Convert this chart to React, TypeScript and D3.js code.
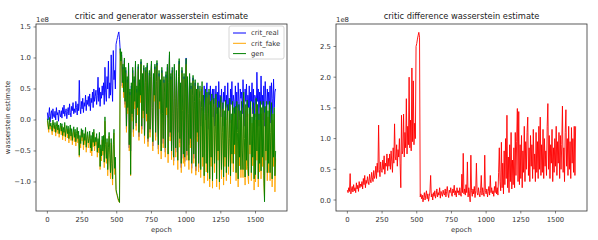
import * as d3 from "d3"

// values in units of 1e8, one sample every 5 epochs (one row = 50 epochs)
const EPOCH_STEP = 5

const critReal = [
  0.12, 0.0, 0.08, 0.2, -0.03, 0.1, 0.15, 0.02, 0.18, 0.06,
  0.04, 0.14, 0.0, 0.2, 0.08, 0.12, -0.02, 0.16, 0.1, 0.05,
  0.15, 0.03, 0.2, 0.1, 0.24, 0.06, 0.12, 0.18, 0.02, 0.14,
  0.2, 0.08, 0.26, 0.12, 0.05, 0.22, 0.15, 0.28, 0.1, 0.18,
  0.12, 0.3, 0.2, 0.08, 0.26, 0.15, 0.64, 0.22, 0.1, 0.3,
  0.18, 0.35, 0.12, 0.28, 0.22, 0.4, 0.15, 0.32, 0.25, 0.38,
  0.22, 0.42, 0.15, 0.35, 0.28, 0.45, 0.2, 0.5, 0.3, 0.38,
  0.48, 0.25, 0.4, 0.69, 0.3, 0.52, 0.22, 0.45, 0.35, 0.55,
  0.4, 0.6, 0.25, 0.85, 0.45, 0.3, 0.7, 0.5, 0.95, 0.35,
  0.6, 0.4, 1.05, 0.55, 0.3, 1.12, 0.65, 0.8, 0.5, 1.22,
  1.28, 1.33, 1.38, 1.42, 1.3, 1.12, 0.9, 1.05, 0.55, 0.85,
  0.4, 0.96, 0.25, 0.8, -0.15, 0.65, 0.15, 0.88, -0.45, 0.45,
  -0.5, 0.55, 0.05, 0.8, -0.2, 0.65, 0.25, 0.9, -0.1, 0.5,
  0.15, 0.86, -0.27, 0.6, 0.35, 0.94, -0.15, 0.7, 0.1, 0.84,
  -0.3, 0.55, 0.8, 0.05, 0.88, -0.35, 0.45, 0.76, -0.2, 0.65,
  0.9, 0.15, -0.42, 0.7, 0.35, 0.86, -0.27, 0.57, 0.92, 0.0,
  -0.47, 0.75, 0.25, 0.6, 0.1, 0.8, 0.05, -0.38, 0.65, 0.4,
  -0.52, 0.73, 0.15, 0.85, 0.04, 0.55, 1.05, -0.27, 0.7, -0.57,
  0.8, 0.05, -0.66, 0.85, 0.3, -0.52, 0.75, 0.15, -0.2, 0.65,
  0.95, -0.37, 0.55, -0.77, 0.8, 0.1, -0.62, 0.7, -0.67, 0.45,
  1.0, -0.57, 0.65, 0.05, -0.4, 0.7, -0.37, 0.55, -0.78, 0.35,
  0.68, -0.62, 0.25, 0.6, -0.82, 0.45, -0.27, 0.55, -0.77, 0.3,
  0.3, -0.1, 0.5, 0.15, 0.4, -0.05, 0.55, 0.2, 0.0, 0.45,
  0.6, 0.1, -0.15, 0.45, 0.25, 0.55, -0.05, 0.35, 0.5, 0.05,
  0.5, -0.1, 0.3, 0.55, 0.1, 0.45, -0.15, 0.62, 0.2, 0.4,
  0.05, 0.5, 0.25, -0.1, 0.45, 0.3, 0.55, 0.0, 0.4, 0.2,
  0.6, 0.15, 0.35, -0.05, 0.5, 0.25, 0.62, 0.05, 0.4, 0.3,
  0.1, 0.55, 0.2, 0.45, -0.15, 0.6, 0.3, 0.0, 0.5, 0.35,
  0.45, 0.1, 0.65, 0.25, -0.1, 0.5, 0.3, 0.58, 0.05, 0.4,
  0.2, 0.55, -0.05, 0.45, 0.3, 0.6, 0.1, 0.5, -0.2, 0.4,
  0.35, 0.05, 0.77, 0.3, 0.5, -0.1, 0.45, 0.2, 0.71, 0.25,
  0.4, 0.0, 0.55, -0.1, 0.62, 0.3, 0.1, 0.5, 0.25, 0.45,
  0.15, 0.55, -0.05, 0.6, 0.35, 0.1, 0.66, 0.2, 0.45, 0.5,
]

const critFake = [
  -0.02, -0.12, -0.2, 0.0, -0.15, -0.09, -0.17, -0.24, -0.04, -0.14,
  -0.19, -0.08, -0.26, -0.15, -0.06, -0.22, -0.13, -0.28, -0.17, -0.1,
  -0.24, -0.1, -0.32, -0.18, -0.26, -0.08, -0.34, -0.2, -0.14, -0.29,
  -0.15, -0.37, -0.23, -0.13, -0.33, -0.2, -0.4, -0.26, -0.16, -0.35,
  -0.2, -0.42, -0.28, -0.17, -0.37, -0.24, -0.6, -0.31, -0.45, -0.19,
  -0.34, -0.21, -0.48, -0.28, -0.4, -0.17, -0.52, -0.32, -0.25, -0.45,
  -0.36, -0.23, -0.53, -0.31, -0.58, -0.26, -0.43, -0.2, -0.5, -0.34,
  -0.41, -0.28, -0.6, -0.36, -0.53, -0.26, -0.8, -0.47, -0.66, -0.32,
  -0.57, -0.31, -0.77, -0.02, -0.47, -0.7, -0.36, -0.9, -0.52, -0.26,
  -0.62, -0.95, -0.37, -0.79, -1.05, -0.47, -0.21, -0.88, -0.68, -1.15,
  -1.2, -1.24, -1.29, -1.32, -1.33, 1.1, 0.88, 1.02, 0.52, 0.82,
  0.36, 0.92, 0.2, 0.76, -0.2, 0.6, 0.1, 0.84, -0.5, 0.4,
  -0.9, 0.5, -0.02, 0.76, -0.27, 0.6, 0.18, 0.86, -0.17, 0.44,
  0.08, 0.82, -0.33, 0.55, 0.28, 0.9, -0.22, 0.66, 0.03, 0.8,
  -0.38, 0.5, 0.77, -0.02, 0.84, -0.43, 0.4, 0.72, -0.28, 0.6,
  0.87, 0.08, -0.5, 0.66, 0.3, 0.82, -0.33, 0.52, 0.88, -0.08,
  -0.55, 0.7, 0.18, 0.55, -0.63, 0.76, -0.02, -0.45, 0.6, 0.35,
  -0.6, 0.68, 0.08, 0.8, -0.69, 0.5, 1.0, -0.34, 0.65, -0.64,
  0.76, -0.02, -0.73, 0.8, 0.24, -0.6, 0.7, 0.08, -0.8, 0.6,
  0.9, -0.44, 0.5, -0.85, 0.76, 0.03, -0.7, 0.66, -0.75, 0.4,
  0.9, -0.65, 0.6, -0.02, -0.8, 0.66, -0.45, 0.5, -0.86, 0.3,
  0.63, -0.7, 0.2, 0.55, -0.89, 0.4, -0.35, 0.5, -0.84, 0.25,
  0.46, -0.93, 0.1, 0.53, -0.75, 0.3, -1.02, 0.0, 0.4, -0.84,
  0.36, -0.98, -0.1, 0.4, -1.08, 0.2, -0.75, 0.32, -1.1, 0.1,
  0.26, -0.85, -0.22, 0.33, -1.08, 0.1, -0.65, 0.2, -1.12, 0.0,
  0.28, -0.95, -0.33, 0.18, -1.05, 0.05, -0.75, 0.22, -0.98, -0.1,
  0.15, -0.88, -0.43, 0.25, -1.03, 0.0, -0.7, 0.2, -0.84, 0.1,
  -0.55, 0.12, -0.98, 0.2, -0.35, -1.08, 0.15, -0.74, 0.05, -0.93,
  0.2, -0.65, -0.93, 0.35, -0.45, -1.05, 0.15, -0.8, 0.22, -0.9,
  -1.03, 0.1, -0.55, 0.2, -0.98, -0.05, -0.74, 0.18, -1.13, 0.0,
  -1.0, 0.25, -0.65, 0.15, -1.08, 0.0, -0.84, 0.2, -0.95, 0.1,
  -0.75, 0.2, -1.03, -1.25, 0.12, -0.65, 0.2, -0.98, 0.05, -0.85,
  0.2, -0.98, -0.35, 0.18, -1.08, 0.0, -0.75, 0.1, -1.16, -0.62,
]

const gen = [
  0.02, -0.08, -0.15, 0.04, -0.1, -0.05, -0.12, -0.18, 0.0, -0.09,
  -0.14, -0.04, -0.2, -0.1, -0.02, -0.16, -0.08, -0.22, -0.12, -0.05,
  -0.18, -0.06, -0.25, -0.12, -0.2, -0.04, -0.27, -0.15, -0.09, -0.22,
  -0.1, -0.3, -0.18, -0.08, -0.26, -0.14, -0.33, -0.2, -0.11, -0.28,
  -0.15, -0.35, -0.22, -0.12, -0.3, -0.18, -0.57, -0.25, -0.38, -0.14,
  -0.28, -0.16, -0.4, -0.22, -0.33, -0.12, -0.44, -0.26, -0.19, -0.37,
  -0.3, -0.18, -0.45, -0.25, -0.5, -0.2, -0.36, -0.15, -0.42, -0.28,
  -0.35, -0.22, -0.52, -0.3, -0.45, -0.2, -0.75, -0.4, -0.58, -0.26,
  -0.5, -0.25, -0.68, 0.05, -0.4, -0.62, -0.3, -0.8, -0.45, -0.2,
  -0.55, -0.85, -0.3, -0.7, -0.95, -0.4, -0.15, -0.78, -0.6, -1.12,
  -1.18, -1.22, -1.27, -1.3, -1.33, 1.15, 0.95, 1.1, 0.6, 0.9,
  0.45, 1.0, 0.3, 0.85, -0.1, 0.7, 0.2, 0.92, -0.4, 0.5,
  -0.88, 0.6, 0.1, 0.85, -0.15, 0.7, 0.3, 0.95, -0.05, 0.55,
  0.2, 0.9, -0.2, 0.65, 0.4, 0.98, -0.1, 0.75, 0.15, 0.88,
  -0.25, 0.6, 0.85, 0.1, 0.92, -0.3, 0.5, 0.8, -0.15, 0.7,
  0.95, 0.2, -0.35, 0.75, 0.4, 0.9, -0.2, 0.62, 0.96, 0.05,
  -0.4, 0.8, 0.3, 0.65, -0.5, 0.85, 0.1, -0.3, 0.7, 0.45,
  -0.45, 0.78, 0.2, 0.9, -0.55, 0.6, 1.1, -0.2, 0.75, -0.5,
  0.85, 0.1, -0.6, 0.9, 0.35, -0.45, 0.8, 0.2, -0.65, 0.7,
  0.99, -0.3, 0.6, -0.7, 0.85, 0.15, -0.55, 0.75, -0.6, 0.5,
  0.99, -0.5, 0.7, 0.1, -0.65, 0.75, -0.3, 0.6, -0.7, 0.4,
  0.72, -0.55, 0.3, 0.65, -0.75, 0.5, -0.2, 0.6, -0.7, 0.35,
  0.55, -0.8, 0.2, 0.62, -0.6, 0.4, -0.9, 0.1, 0.5, -0.7,
  0.45, -0.85, 0.0, 0.5, -0.95, 0.3, -0.6, 0.42, -0.98, 0.2,
  0.35, -0.7, -0.1, 0.42, -0.95, 0.2, -0.5, 0.3, -1.0, 0.1,
  0.38, -0.8, -0.2, 0.28, -0.92, 0.15, -0.6, 0.32, -0.85, 0.0,
  0.25, -0.75, -0.3, 0.35, -0.9, 0.1, -0.55, 0.3, -0.7, 0.2,
  -0.4, 0.22, -0.85, 0.3, -0.2, -0.95, 0.25, -0.6, 0.15, -0.8,
  0.3, -0.5, -0.8, 0.45, -0.3, -0.92, 0.25, -0.65, 0.32, -0.75,
  -0.9, 0.2, -0.4, 0.3, -0.85, 0.05, -0.6, 0.28, -0.95, 0.1,
  -0.88, 0.35, -0.5, 0.25, -0.95, 0.1, -0.7, 0.3, -0.82, 0.2,
  -0.6, 0.3, -0.9, -1.32, 0.22, -0.5, 0.3, -0.85, 0.15, -0.7,
  0.3, -0.85, -0.2, 0.28, -0.95, 0.1, -0.6, 0.2, -0.9, -0.5,
]

const critDiff = [
  0.16, 0.12, 0.2, 0.14, 0.43, 0.1, 0.18, 0.22, 0.13, 0.25,
  0.15, 0.2, 0.12, 0.28, 0.18, 0.24, 0.14, 0.3, 0.2, 0.26,
  0.22, 0.3, 0.18, 0.35, 0.25, 0.4, 0.2, 0.32, 0.27, 0.38,
  0.3, 0.25, 0.42, 0.33, 0.28, 0.45, 0.36, 0.3, 0.48, 0.35,
  0.4, 0.55, 0.35, 0.6, 0.45, 1.22, 0.5, 0.38, 0.62, 0.48,
  0.45, 0.65, 0.5, 0.72, 0.42, 0.6, 0.55, 0.75, 0.48, 0.68,
  0.55, 0.75, 0.5, 0.8, 0.62, 0.45, 0.85, 0.6, 1.24, 0.7,
  0.65, 0.9, 0.55, 0.82, 0.7, 1.0, 0.6, 0.2, 1.38, 0.75,
  0.8, 1.4, 0.7, 1.1, 0.85, 1.65, 0.75, 1.2, 0.9, 2.0,
  0.85, 1.3, 0.8, 2.15, 0.95, 1.94, 0.9, 1.25, 1.0, 2.5,
  2.55, 2.62, 2.68, 2.73, 2.65, 0.05, 0.1, 0.02, 0.08, -0.03,
  0.04, 0.12, 0.0, 0.08, 0.15, 0.02, 0.1, -0.02, 0.06, 0.13,
  0.4, 0.05, 0.1, 0.0, 0.12, 0.06, 0.15, 0.03, 0.09, 0.18,
  0.05, 0.12, 0.08, 0.2, 0.03, 0.14, 0.1, 0.06, 0.16, 0.1,
  0.08, 0.18, 0.05, 0.14, 0.22, 0.1, 0.04, 0.16, 0.12, 0.2,
  0.1, 0.06, 0.18, 0.12, 0.24, 0.08, 0.15, 0.05, 0.2, 0.12,
  0.15, 0.08, 0.2, 0.1, 0.06, 0.42, 0.12, 0.76, 0.1, 0.18,
  0.08, 0.25, 0.12, 0.62, 0.05, 0.2, 0.1, -0.03, 0.73, 0.15,
  0.06, 0.18, 0.1, 0.22, 0.04, 0.15, 0.6, 0.12, 0.08, 0.2,
  0.1, 0.05, 0.16, 0.4, 0.08, 0.2, 0.12, 0.06, 0.73, 0.15,
  0.1, 0.18, 0.05, 0.14, 0.22, 0.08, 0.4, 0.12, 0.2, 0.1,
  0.15, 0.06, 0.22, 0.12, 0.3, 0.1, 0.2, 0.08, 0.45, 0.85,
  0.3, 0.15, 0.94, 0.2, 0.6, 0.1, 0.8, 0.25, 1.0, 0.35,
  1.38, 0.2, 0.7, 0.12, 0.9, 0.3, 1.1, 0.18, 0.65, 0.25,
  0.85, 0.2, 1.1, 0.4, 0.95, 1.49, 0.3, 1.44, 0.25, 0.9,
  0.35, 1.05, 0.2, 0.8, 0.45, 1.2, 0.3, 0.95, 0.5, 1.1,
  1.35, 0.4, 0.85, 0.3, 1.05, 0.55, 0.9, 0.35, 1.15, 0.5,
  0.75, 0.3, 1.1, 0.45, 0.95, 0.35, 1.2, 0.5, 1.35, 0.4,
  0.9, 0.45, 1.15, 0.35, 1.0, 0.55, 0.8, 0.4, 1.2, 1.57,
  0.5, 1.05, 0.35, 0.9, 0.6, 1.15, 0.3, 0.85, 0.45, 1.0,
  0.55, 1.2, 0.4, 0.95, 0.6, 1.1, 0.35, 1.05, 0.5, 0.9,
  1.53, 0.45, 0.85, 0.3, 1.1, 1.47, 0.55, 1.0, 0.4, 1.2,
  0.5, 0.95, 0.35, 1.18, 0.6, 1.0, 0.45, 1.2, 0.4, 1.2,
]

const xTicks = [0, 250, 500, 750, 1000, 1250, 1500]
const leftYTicks = [-1.0, -0.5, 0.0, 0.5, 1.0, 1.5]
const rightYTicks = [0.0, 0.5, 1.0, 1.5, 2.0, 2.5]

const leftSeries = [
  { name: "crit_real", values: critReal, color: "#0000ff" },
  { name: "crit_fake", values: critFake, color: "#ffa500" },
  { name: "gen", values: gen, color: "#008000" },
]

const FONT = "DejaVu Sans, sans-serif"
const INK = "#333"
const fmt = (v: number) => d3.format(".1f")(v).replace("-", "\u2212")

const top = 24
const bottom = 211

function Panel({ left, right, yDomain, yTicks, series, title, ylabel, legend }: any) {
  const x = d3.scaleLinear().domain([-82, 1727]).range([left, right])
  const y = d3.scaleLinear().domain(yDomain).range([bottom, top])
  const line = d3
    .line<number>()
    .x((_, i) => x(i * EPOCH_STEP))
    .y((d) => y(d))
  const cx = (left + right) / 2

  return (
    <g fontFamily={FONT}>
      <text x={cx} y={19} fontSize={8.3} textAnchor="middle" fill="#222">
        {title}
      </text>
      <text x={left} y={21.5} fontSize={6.9} fill={INK}>
        1e8
      </text>

      <defs>
        <clipPath id={`clip-${left}`}>
          <rect x={left} y={top} width={right - left} height={bottom - top} />
        </clipPath>
      </defs>
      <g clipPath={`url(#clip-${left})`}>
        {series.map((s: any) => (
          <path key={s.name} d={line(s.values) || ""} fill="none" stroke={s.color} strokeWidth={0.9} strokeLinejoin="round" />
        ))}
      </g>

      <rect x={left} y={top} width={right - left} height={bottom - top} fill="none" stroke={INK} strokeWidth={0.8} />

      {xTicks.map((t) => (
        <g key={t}>
          <line x1={x(t)} x2={x(t)} y1={bottom} y2={bottom + 2.5} stroke={INK} strokeWidth={0.6} />
          <text x={x(t)} y={221.5} fontSize={6.9} textAnchor="middle" fill={INK}>
            {t}
          </text>
        </g>
      ))}
      {yTicks.map((t: number) => (
        <g key={t}>
          <line x1={left - 2.5} x2={left} y1={y(t)} y2={y(t)} stroke={INK} strokeWidth={0.6} />
          <text x={left - 5} y={y(t) + 2.5} fontSize={6.9} textAnchor="end" fill={INK}>
            {fmt(t)}
          </text>
        </g>
      ))}
      <text x={cx} y={231.5} fontSize={6.9} textAnchor="middle" fill={INK}>
        epoch
      </text>
      {ylabel && (
        <text transform={`translate(9.5,${(top + bottom) / 2}) rotate(-90)`} fontSize={6.9} textAnchor="middle" fill={INK}>
          {ylabel}
        </text>
      )}

      {legend && (
        <g>
          <rect x={229} y={26} width={55} height={33} rx={2} fill="white" fillOpacity={0.8} stroke="#ccc" strokeWidth={0.8} />
          {series.map((s: any, i: number) => (
            <g key={s.name} transform={`translate(0,${33 + i * 10.3})`}>
              <line x1={233} x2={246} y1={0} y2={0} stroke={s.color} strokeWidth={1} />
              <text x={251} y={2.4} fontSize={6.9} fill={INK}>
                {s.name}
              </text>
            </g>
          ))}
        </g>
      )}
    </g>
  )
}

export default function App() {
  return (
    <svg width={598} height={240} style={{ position: "absolute", left: 0, top: 0, background: "white" }}>
      <rect width={598} height={240} fill="white" />
      <Panel
        left={36}
        right={287}
        yDomain={[-1.468, 1.548]}
        yTicks={leftYTicks}
        series={leftSeries}
        title="critic and generator wasserstein estimate"
        ylabel="wasserstein estimate"
        legend
      />
      <Panel
        left={336}
        right={587}
        yDomain={[-0.179, 2.866]}
        yTicks={rightYTicks}
        series={[{ name: "diff", values: critDiff, color: "#ff0000" }]}
        title="critic difference wasserstein estimate"
      />
    </svg>
  )
}
